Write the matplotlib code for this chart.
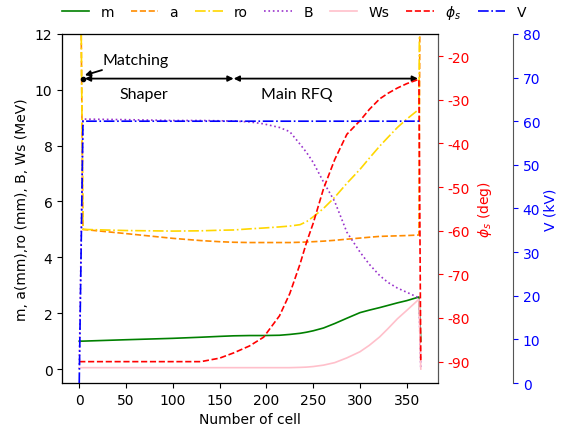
import matplotlib.pyplot as plt

plt.rcParams['axes.unicode_minus'] = False

cells = [0, 4, 50, 100, 130, 150, 165, 182, 197, 214, 225, 236, 243, 250, 261, 273,
         286, 300, 310, 321, 330, 340, 350, 363, 365]

m = [1.0, 1.0, 1.05, 1.1, 1.14, 1.17, 1.19, 1.2, 1.2, 1.21, 1.24, 1.28, 1.32, 1.37,
     1.47, 1.63, 1.82, 2.02, 2.11, 2.2, 2.28, 2.37, 2.45, 2.58, 1.0]
a = [20, 5.0, 4.85, 4.68, 4.6, 4.56, 4.54, 4.53, 4.53, 4.53, 4.53, 4.54, 4.55, 4.56,
     4.58, 4.61, 4.65, 4.69, 4.72, 4.75, 4.76, 4.77, 4.78, 4.8, 20]
ro = [20, 5.0, 4.96, 4.94, 4.95, 4.97, 4.98, 5.02, 5.05, 5.09, 5.12, 5.17, 5.28, 5.45,
      5.75, 6.15, 6.65, 7.15, 7.55, 7.98, 8.3, 8.65, 8.95, 9.3, 20]
B = [0, 8.95, 8.93, 8.9, 8.9, 8.89, 8.88, 8.85, 8.78, 8.65, 8.5, 8.05, 7.75, 7.4,
     6.7, 6.0, 4.9, 4.19, 3.75, 3.35, 3.1, 2.9, 2.75, 2.55, 0]
Ws = [0.05, 0.05, 0.05, 0.05, 0.05, 0.05, 0.05, 0.05, 0.05, 0.05, 0.05, 0.06, 0.07,
      0.09, 0.14, 0.23, 0.4, 0.62, 0.85, 1.15, 1.45, 1.8, 2.1, 2.5, 0]
phi_s = [-90, -90, -90, -90, -90, -89.2, -88, -86.4, -84.4, -79.5, -74.4, -67.6, -62.6,
         -58.3, -50.4, -43.7, -37.9, -34.8, -32.2, -29.8, -28.5, -27.3, -26.3, -25.3, -90]
V = [0] + [60] * 24

fig = plt.figure(figsize=(5.65, 4.31), dpi=100)
ax = fig.add_axes([0.11, 0.109, 0.665, 0.81])
ax2 = ax.twinx()
ax3 = ax.twinx()
ax3.spines['right'].set_position(('axes', 1.2))

lw = 1.2
ax.plot(cells, m, color='green', lw=lw, label='m')
ax.plot(cells, a, color='darkorange', ls='--', lw=lw, label='a')
ax.plot(cells, ro, color='gold', ls='-.', lw=lw, label='ro')
ax.plot(cells, B, color='darkorchid', ls=':', lw=lw, label='B')
ax.plot(cells, Ws, color='pink', lw=lw, label='Ws')
ax2.plot(cells, phi_s, color='red', ls='--', lw=lw, label=r'$\phi_s$')
ax3.plot(cells, V, color='blue', ls='-.', lw=lw, label='V')

ax.set_ylim(-0.5, 12)
ax2.set_ylim(-94.9, -14.9)
ax3.set_ylim(0, 80)
ax.set_yticks(range(0, 13, 2))
ax2.set_yticks(range(-90, -19, 10))
ax3.set_yticks(range(0, 81, 10))

ax.set_xlabel('Number of cell')
ax.set_ylabel('m, a(mm),ro (mm), B, Ws (MeV)')
ax2.set_ylabel(r'$\phi_s$ (deg)', color='red')
ax3.set_ylabel('V (kV)', color='blue', labelpad=2)
ax2.tick_params(axis='y', colors='red')
ax3.tick_params(axis='y', colors='blue')
for s in ['left', 'right', 'top', 'bottom']:
    ax.spines[s].set_color('#555555')
ax2.spines['right'].set_color('#555555')
ax3.spines['right'].set_color('#555555')

# section annotations
lvl = 10.4
ax.plot([4], [lvl], 'ko', ms=3)
arr = dict(arrowstyle='<|-|>', color='black', lw=1.3, mutation_scale=8, shrinkA=0, shrinkB=0)
ax.annotate('', xy=(6, lvl), xytext=(165, lvl), arrowprops=arr)
ax.annotate('', xy=(165, lvl), xytext=(362, lvl), arrowprops=arr)
ax.annotate('Matching', xy=(6, lvl + 0.12), xytext=(25, 11.07), va='center',
            fontsize=11.5, family='Lato',
            arrowprops=dict(arrowstyle='-|>', color='black', lw=1.3, mutation_scale=8,
                            shrinkA=1, shrinkB=0))
ax.text(69, 9.85, 'Shaper', ha='center', va='center', fontsize=11.5, family='Lato')
ax.text(233, 9.85, 'Main RFQ', ha='center', va='center', fontsize=11.5, family='Lato')

handles = []
labels = []
for axx in (ax, ax2, ax3):
    h, l = axx.get_legend_handles_labels()
    handles += h
    labels += l
fig.legend(handles, labels, loc='upper center', bbox_to_anchor=(0.52, 1.02), ncol=7,
           frameon=False, fontsize=10, columnspacing=1.2)

fig.savefig('out.png', dpi=100)
